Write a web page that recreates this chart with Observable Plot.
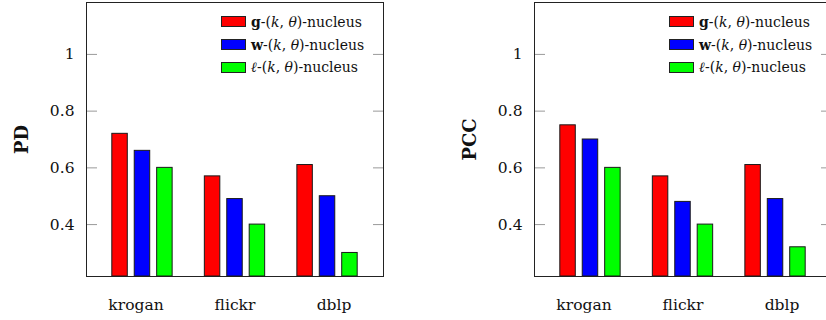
<!DOCTYPE html>
<html><head><meta charset="utf-8">
<script src="https://cdn.jsdelivr.net/npm/d3@7"></script>
<script src="https://cdn.jsdelivr.net/npm/@observablehq/plot@0.6"></script>
<style>
body{margin:0;background:#fff;}
#row{display:flex;width:826px;height:320px;overflow:hidden;}
.chart{position:relative;width:448px;height:320px;flex:0 0 448px;}
.chart svg{position:absolute;left:0;top:0;font-family:"DejaVu Serif",serif !important;}
.legend{position:absolute;left:220.5px;top:10.6px;font-family:"DejaVu Serif",serif;font-size:14px;color:#111;}
.legend .item{display:flex;align-items:center;height:22.7px;white-space:nowrap;}
.legend .sw{width:25.5px;height:11px;border:1px solid #222;margin-right:5px;box-sizing:border-box;}
svg g[aria-label="y-axis label"] text{font-weight:bold;font-size:18px;}
</style></head><body><div id="row"></div>
<script>
const datasets = ["krogan", "flickr", "dblp"];
const series = ["g", "w", "l"];
const seriesLabels = [
  "<b>g</b>-(<i>k</i>, <i>θ</i>)-nucleus",
  "<b>w</b>-(<i>k</i>, <i>θ</i>)-nucleus",
  "<b><i>ℓ</i></b>-(<i>k</i>, <i>θ</i>)-nucleus"
];
// PD chart values (per dataset: krogan, flickr, dblp)
const pdG = [0.72, 0.57, 0.61];
const pdW = [0.66, 0.49, 0.50];
const pdL = [0.60, 0.40, 0.30];
// PCC chart values
const pccG = [0.75, 0.57, 0.61];
const pccW = [0.70, 0.48, 0.49];
const pccL = [0.60, 0.40, 0.32];
const yTicks = [0.4, 0.6, 0.8, 1];
const yDomain = [0.217, 1.183];

function table(g, w, l) {
  const out = [];
  datasets.forEach((d, i) => {
    out.push({dataset: d, series: "g", value: g[i]});
    out.push({dataset: d, series: "w", value: w[i]});
    out.push({dataset: d, series: "l", value: l[i]});
  });
  return out;
}

const layout = {width: 448, height: 320, marginLeft: 86, marginRight: 65, marginTop: 2, marginBottom: 44};
const groupBand = {domain: datasets, paddingInner: 0.348, paddingOuter: 0.279, round: false};
const font = {fontFamily: "'DejaVu Serif', serif", fontSize: "15.5px", color: "#111", background: "transparent"};

function chart(data, yLabel) {
  // base layer: frame, axes, labels
  const base = Plot.plot({
    ...layout,
    style: font,
    x: {...groupBand, label: null},
    y: {domain: yDomain},
    marks: [
      Plot.axisY(yTicks, {anchor: "left", tickSize: -11, tickFormat: () => "", label: null, stroke: "#9a9a9a"}),
      Plot.axisY(yTicks, {anchor: "right", tickSize: -11, tickFormat: () => "", label: null, stroke: "#9a9a9a"}),
      Plot.axisY(yTicks, {anchor: "left", tickSize: 0, tickPadding: 12, tickFormat: d => String(d), fontSize: 15.5,
        label: yLabel, labelAnchor: "center", labelOffset: 71, labelArrow: "none"}),
      Plot.axisX(datasets, {anchor: "bottom", tickSize: 0, tickPadding: 22, fontSize: 15.5, label: null}),
      Plot.frame({stroke: "#222"})
    ]
  });
  // bar layer: grouped bars via fx facets
  const bars = Plot.plot({
    ...layout,
    style: font,
    fx: {...groupBand, label: null, axis: null},
    x: {domain: series, paddingInner: 0.31, paddingOuter: 0, round: false, axis: null},
    y: {domain: yDomain, clamp: true, axis: null},
    color: {domain: series, range: ["#ff0000", "#0000ff", "#00ff00"]},
    marks: [
      Plot.barY(data, {fx: "dataset", x: "series", y: "value", fill: "series", stroke: "#1a1a1a", strokeWidth: 1})
    ]
  });
  const wrap = document.createElement("div");
  wrap.className = "chart";
  wrap.appendChild(base);
  wrap.appendChild(bars);
  const color = bars.scale("color");
  const lg = document.createElement("div");
  lg.className = "legend";
  series.forEach((s, i) => {
    const it = document.createElement("div");
    it.className = "item";
    const sw = document.createElement("span");
    sw.className = "sw";
    sw.style.background = color.apply(s);
    const tx = document.createElement("span");
    tx.innerHTML = seriesLabels[i];
    it.appendChild(sw); it.appendChild(tx);
    lg.appendChild(it);
  });
  wrap.appendChild(lg);
  return wrap;
}

const row = document.getElementById("row");
row.appendChild(chart(table(pdG, pdW, pdL), "PD"));
row.appendChild(chart(table(pccG, pccW, pccL), "PCC"));
</script></body></html>
